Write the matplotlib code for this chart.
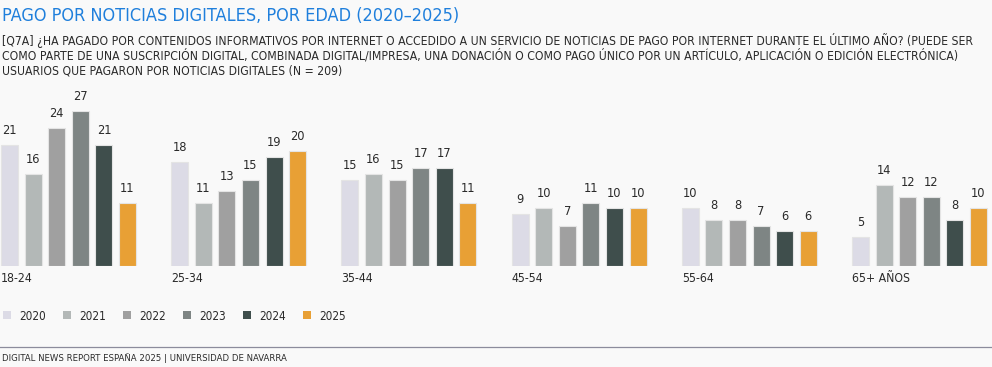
import numpy as np
import matplotlib.pyplot as plt
from matplotlib.patches import Patch
from matplotlib.lines import Line2D

# data
ages = ["18-24", "25-34", "35-44", "45-54", "55-64", "65+ AÑOS"]
years = ["2020", "2021", "2022", "2023", "2024", "2025"]
v2020 = [21, 18, 15, 9, 10, 5]
v2021 = [16, 11, 16, 10, 8, 14]
v2022 = [24, 13, 15, 7, 8, 12]
v2023 = [27, 15, 17, 11, 7, 12]
v2024 = [21, 19, 17, 10, 6, 8]
v2025 = [11, 20, 11, 10, 6, 10]
series = [v2020, v2021, v2022, v2023, v2024, v2025]
colors = ["#dcdbe6", "#b3b8b7", "#a0a0a0", "#7e8584", "#3f4e4c", "#e8a035"]

W, H = 992, 367
plt.rcParams['font.family'] = ["DejaVu Sans"]
plt.rcParams['font.stretch'] = "condensed"

fig = plt.figure(figsize=(W / 100, H / 100), dpi=100)
fig.patch.set_facecolor("#f9f9f9")

# axes in pixel-ish layout: baseline y=266, 27 -> y=110.7
base = 266
top = 110.7
ax = fig.add_axes([0, (H - base) / H, 1, (base - top) / H])
ax.set_facecolor("none")
ax.set_xlim(0, W)
ax.set_ylim(0, 27)
ax.axis("off")

group_step = 170.2
bar_step = 23.6
bar_w = 17
for i, (vals, c) in enumerate(zip(series, colors)):
    x = 1 + np.arange(len(ages)) * group_step + i * bar_step
    ax.bar(x, vals, width=bar_w, align="edge", color=c,
           edgecolor="#e4e4e4", linewidth=0.8, zorder=2)
    for xi, v in zip(x, vals):
        ax.text(xi + bar_w / 2, v + 1.4, str(v), ha="center", va="bottom",
                fontsize=9.2, color="#2a2a2a", clip_on=False)

for g, lab in enumerate(ages):
    fig.text((1 + g * group_step) / W, 1 - 278 / H, lab, ha="left", va="center",
             fontsize=8.8, color="#2a2a2a")

# title and subtitle
fig.text(2 / W, 1 - 16 / H, "PAGO POR NOTICIAS DIGITALES, POR EDAD (2020–2025)",
         ha="left", va="center", fontsize=13, color="#1f7fdc")
sub = ["[Q7A] ¿HA PAGADO POR CONTENIDOS INFORMATIVOS POR INTERNET O ACCEDIDO A UN SERVICIO DE NOTICIAS DE PAGO POR INTERNET DURANTE EL ÚLTIMO AÑO? (PUEDE SER",
       "COMO PARTE DE UNA SUSCRIPCIÓN DIGITAL, COMBINADA DIGITAL/IMPRESA, UNA DONACIÓN O COMO PAGO ÚNICO POR UN ARTÍCULO, APLICACIÓN O EDICIÓN ELECTRÓNICA)",
       "USUARIOS QUE PAGARON POR NOTICIAS DIGITALES (N = 209)"]
for k, line in enumerate(sub):
    fig.text(2 / W, 1 - (41 + k * 15) / H, line, ha="left", va="center",
             fontsize=8.7, color="#2a2a2a")

# legend
handles = [Patch(facecolor=c, edgecolor="none") for c in colors]
fig.legend(handles, years, loc="center left", bbox_to_anchor=(3 / W, 1 - 316 / H),
           ncol=6, frameon=False, fontsize=8.5, handlelength=0.65, handleheight=0.65,
           handletextpad=0.75, columnspacing=1.42, borderpad=0, borderaxespad=0,
           labelcolor="#2a2a2a")

# footer
fig.add_artist(Line2D([0, 1], [1 - 347 / H] * 2, color="#8c8c9c", linewidth=0.9))
fig.text(2 / W, 1 - 358 / H, "DIGITAL NEWS REPORT ESPAÑA 2025 | UNIVERSIDAD DE NAVARRA",
         ha="left", va="center", fontsize=6.8, color="#2a2a2a")

fig.savefig("out.png", dpi=100, facecolor=fig.get_facecolor())
